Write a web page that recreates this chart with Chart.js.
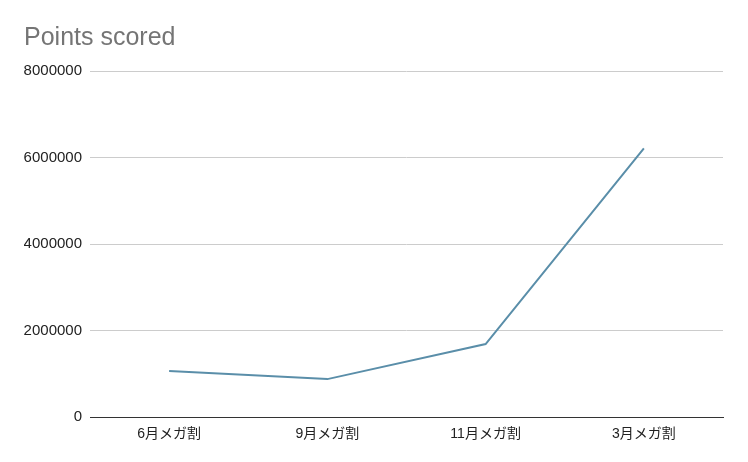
<!DOCTYPE html>
<html>
<head>
<meta charset="utf-8">
<script src="https://cdn.jsdelivr.net/npm/chart.js@4"></script>
<style>
    html, body { margin: 0; padding: 0; background: #fff; }
    #wrap { width: 748px; height: 462px; }
</style>
</head>
<body>
<div id="wrap"><canvas id="chart" width="748" height="462"></canvas></div>
<script>
// Categories and values.
const categories = ["6月メガ割", "9月メガ割", "11月メガ割", "3月メガ割"];
const pointsScored = [1065000, 880000, 1690000, 6210000];
const yTicks = [0, 2000000, 4000000, 6000000, 8000000];

const fontFamily = "Arial, 'Liberation Sans', 'Noto Sans CJK JP', sans-serif";

new Chart(document.getElementById("chart"), {
    type: "line",
    data: {
        labels: categories,
        datasets: [{
            label: "Points scored",
            data: pointsScored,
            borderColor: "#5a8ea9",
            backgroundColor: "#5a8ea9",
            borderWidth: 2,
            pointRadius: 0,
            tension: 0,
            fill: false,
        }],
    },
    options: {
        responsive: false,
        animation: false,
        layout: { padding: { left: 24, right: 25, top: 0, bottom: 18 } },
        plugins: {
            legend: { display: false },
            tooltip: { enabled: false },
            title: {
                display: true,
                text: "Points scored",
                align: "start",
                color: "#757575",
                font: { family: fontFamily, size: 25, weight: "normal", lineHeight: 1.2 },
                padding: { top: 23, bottom: 18 },
            },
        },
        scales: {
            x: {
                offset: true,
                grid: { display: false },
                border: { display: true, color: "#333", width: 1 },
                ticks: {
                    color: "#222",
                    font: { family: fontFamily, size: 14 },
                    padding: 1,
                    maxRotation: 0,
                },
            },
            y: {
                min: 0,
                max: 8000000,
                afterBuildTicks: scale => {
                    scale.ticks = yTicks.map(v => ({ value: v }));
                },
                afterFit: scale => { scale.width = 66; },
                grid: { color: "#cccccc", drawTicks: false },
                border: { display: false },
                ticks: {
                    color: "#222",
                    font: { family: fontFamily, size: 15 },
                    padding: 8,
                    callback: v => String(v),
                },
            },
        },
    },
});
</script>
</body>
</html>
